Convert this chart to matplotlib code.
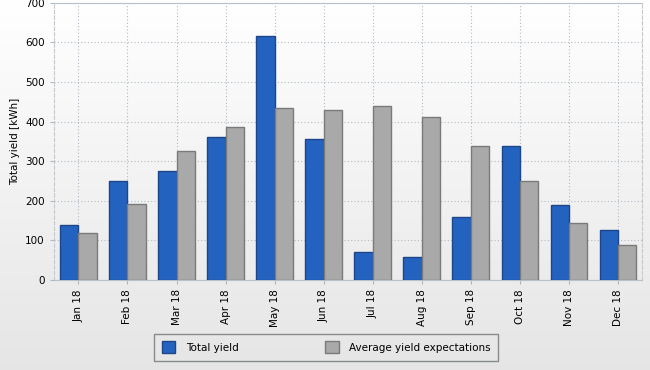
import matplotlib
matplotlib.use("Agg")
import matplotlib.pyplot as plt
import numpy as np
from matplotlib.patches import Patch

months = ["Jan 18", "Feb 18", "Mar 18", "Apr 18", "May 18", "Jun 18",
          "Jul 18", "Aug 18", "Sep 18", "Oct 18", "Nov 18", "Dec 18"]
total_yield = [138, 249, 275, 362, 615, 357, 71, 58, 160, 337, 190, 127]
expected = [118, 191, 325, 387, 435, 428, 438, 412, 339, 251, 144, 89]

plt.rcParams['font.family'] = ['DejaVu Sans']
fig = plt.figure(figsize=(6.5, 3.7), dpi=100)

# gradient background
bg = fig.add_axes([0, 0, 1, 1], zorder=-10)
grad = np.linspace(1.0, 0.90, 256).reshape(-1, 1)
bg.imshow(np.dstack([grad, grad, grad]), aspect='auto', extent=[0, 1, 0, 1])
bg.axis('off')

ax = fig.add_axes([0.083, 0.243, 0.905, 0.750])
ax.set_facecolor('none')
x = np.arange(len(months))
w = 0.37
ax.bar(x - w/2, total_yield, w, color='#2462C0', edgecolor='#1c4688', linewidth=1, zorder=3)
ax.bar(x + w/2, expected, w, color='#A9A9A9', edgecolor='#7a7a7a', linewidth=1, zorder=3)

ax.set_xlim(-0.5, 11.5)
ax.set_ylim(0, 700)
ax.set_yticks(range(0, 701, 100))
ax.set_xticks(x)
ax.set_xticklabels(months, rotation=90, fontsize=7.5)
ax.tick_params(axis='y', labelsize=7.5, length=3, color='#b0b8c0')
ax.tick_params(axis='x', length=3, color='#b0b8c0')
ax.grid(True, linestyle=(0, (1, 2)), color='#b0bac6', linewidth=0.8, zorder=0)
ax.set_axisbelow(True)
for s in ['left', 'right']:
    ax.spines[s].set_linestyle((0, (3, 2)))
    ax.spines[s].set_color('#c4c8cc')
ax.spines['top'].set_color('#b8c0c8')
ax.spines['bottom'].set_color('#b8c0c8')
ax.set_ylabel("Total yield [kWh]", fontsize=7.5)

handles = [Patch(facecolor='#2462C0', edgecolor='#1c4688', label='Total yield'),
           Patch(facecolor='#A9A9A9', edgecolor='#7a7a7a', label='Average yield expectations')]
leg = fig.legend(handles=handles, loc='center', bbox_to_anchor=(0.502, 0.062),
                 ncol=2, fontsize=7.5, frameon=True, fancybox=False,
                 edgecolor='#6e7478', columnspacing=8.3, handlelength=1.3,
                 handleheight=1.3, handletextpad=1.0, borderpad=0.75)
leg.get_frame().set_facecolor('none')
leg.get_frame().set_linewidth(1)

fig.savefig("out.png", dpi=100)
